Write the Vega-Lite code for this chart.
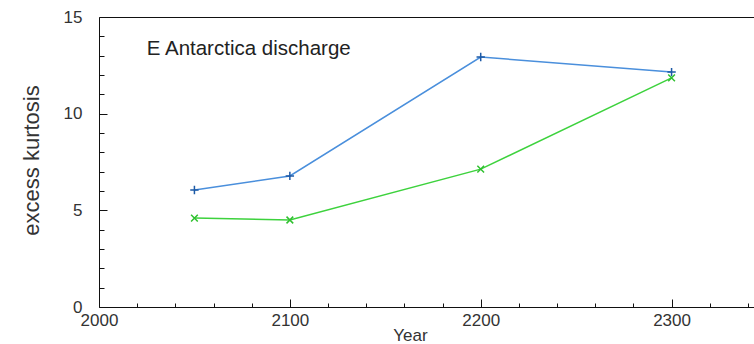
{
  "$schema": "https://vega.github.io/schema/vega-lite/v6.json",
  "width": 668,
  "height": 290,
  "autosize": "none",
  "padding": {"left": 99, "top": 17, "right": 0, "bottom": 37},
  "background": "white",
  "config": {
    "view": {"stroke": "#111", "strokeWidth": 1},
    "font": "Liberation Sans",
    "axis": {"grid": false, "domain": false, "labelFont": "Liberation Sans", "titleFont": "Liberation Sans", "labelColor": "#333", "titleColor": "#333", "tickColor": "#111", "titleFontWeight": "normal"}
  },
  "data": {
    "values": [
      {"Year": 2050, "value": 6.05, "series": "A"},
      {"Year": 2100, "value": 6.78, "series": "A"},
      {"Year": 2200, "value": 12.93, "series": "A"},
      {"Year": 2300, "value": 12.15, "series": "A"},
      {"Year": 2050, "value": 4.6, "series": "B"},
      {"Year": 2100, "value": 4.5, "series": "B"},
      {"Year": 2200, "value": 7.13, "series": "B"},
      {"Year": 2300, "value": 11.85, "series": "B"}
    ]
  },
  "layer": [
    {
      "mark": {"type": "line", "strokeWidth": 1.5},
      "encoding": {
        "x": {"field": "Year", "type": "quantitative", "scale": {"domain": [2000, 2350], "nice": false, "zero": false},
          "axis": {"orient": "bottom", "values": [2000, 2100, 2200, 2300], "format": "d", "tickSize": -8, "labelPadding": 13, "labelFontSize": 17, "labelFlush": false, "labelOverlap": false,
            "title": "Year", "titleFontSize": 17, "titleX": 311, "titleY": 28, "titleBaseline": "middle", "titleAlign": "center"}},
        "y": {"field": "value", "type": "quantitative", "scale": {"domain": [0, 15], "nice": false},
          "axis": {"orient": "left", "values": [0, 5, 10, 15], "format": "d", "tickSize": -8, "labelPadding": 25, "labelFontSize": 17, "labelFlush": false, "labelOverlap": false, "labelBaseline": "middle",
            "title": "excess kurtosis", "titleFontSize": 22, "titleX": -68, "titleY": 143, "titleBaseline": "middle", "titleAlign": "center", "titleAngle": 270}},
        "color": {"field": "series", "type": "nominal", "scale": {"domain": ["A", "B"], "range": ["#4a8fdc", "#3dd23d"]}, "legend": null}
      }
    },
    {
      "mark": {"type": "point", "filled": false, "strokeWidth": 1.5, "size": 70, "opacity": 1},
      "encoding": {
        "x": {"field": "Year", "type": "quantitative",
          "axis": {"orient": "bottom", "values": [2020, 2040, 2060, 2080, 2120, 2140, 2160, 2180, 2220, 2240, 2260, 2280, 2320, 2340], "tickSize": -4, "labels": false, "title": null}},
        "y": {"field": "value", "type": "quantitative",
          "axis": {"orient": "left", "values": [1, 2, 3, 4, 6, 7, 8, 9, 11, 12, 13, 14], "tickSize": -5, "labels": false, "title": null}},
        "stroke": {"field": "series", "type": "nominal", "scale": {"domain": ["A", "B"], "range": ["#1d5aa6", "#2fc02f"]}, "legend": null},
        "shape": {"field": "series", "type": "nominal", "scale": {"domain": ["A", "B"], "range": ["M-1,0L1,0M0,-1L0,1", "M-0.8,-0.8L0.8,0.8M-0.8,0.8L0.8,-0.8"]}, "legend": null}
      }
    },
    {
      "data": {"values": [{"label": "E Antarctica discharge"}]},
      "mark": {"type": "text", "align": "left", "baseline": "middle", "fontSize": 20.5, "font": "Liberation Sans", "color": "#222"},
      "encoding": {
        "x": {"datum": 2025, "type": "quantitative", "axis": null},
        "y": {"datum": 13.35, "type": "quantitative", "axis": null},
        "text": {"field": "label", "type": "nominal"}
      }
    }
  ],
  "resolve": {"axis": {"x": "independent", "y": "independent"}}
}
